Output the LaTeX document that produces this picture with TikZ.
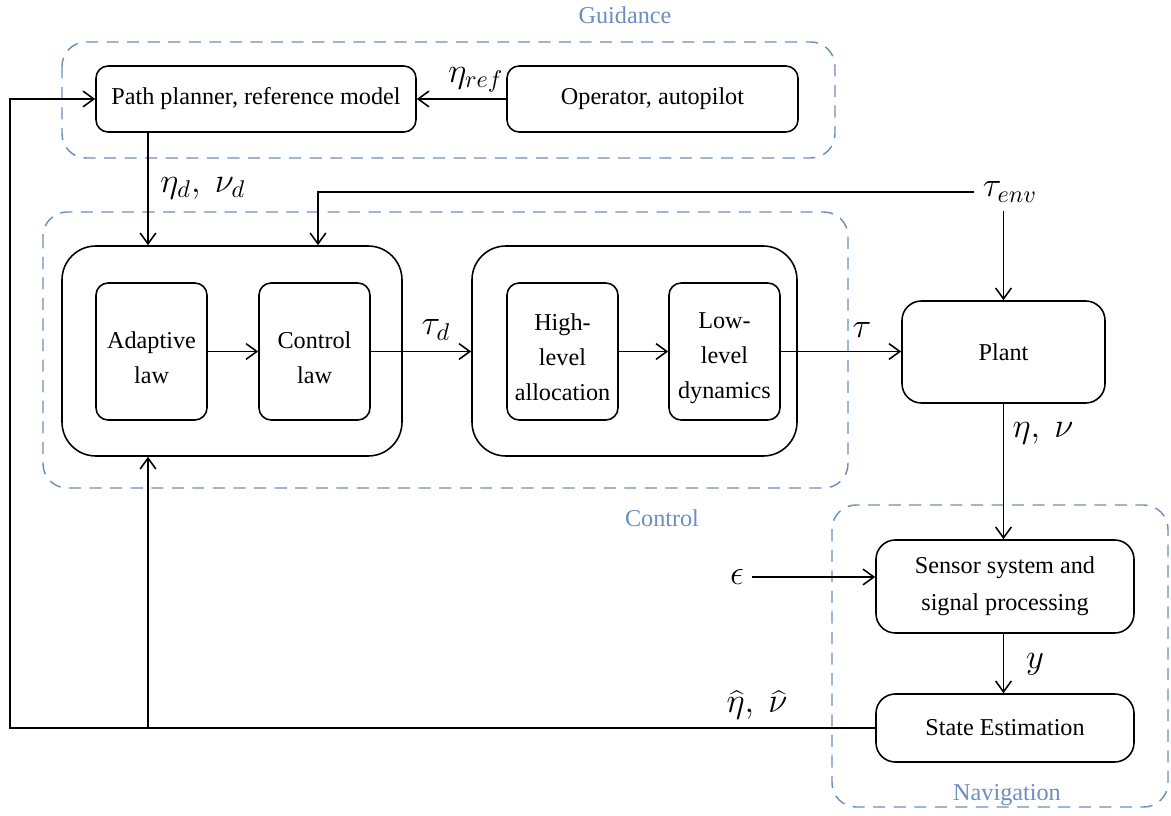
\documentclass[tikz,border=0pt]{standalone}
\usepackage{fontspec}
\setmainfont{Liberation Serif}
\usetikzlibrary{arrows.meta}
\definecolor{zoneblue}{RGB}{108,142,191}
\newdimen\pxu \pxu=0.4133pt
% taller first line, to set the stacked block texts a little lower
\newcommand{\lowstrut}{\rule{0pt}{12pt}}

\begin{document}
\begin{tikzpicture}[x=0.4133pt, y=-0.4133pt,
  txt/.style={font=\fontsize{10}{14.5}\selectfont},
  blk/.style={draw, line width=0.65pt, rounded corners=5pt, align=center, inner sep=0pt, txt},
  inner/.style={blk, minimum width=111\pxu, minimum height=137\pxu},
  grp/.style={draw, line width=0.65pt, rounded corners=14pt, inner sep=0pt},
  zone/.style={draw=zoneblue, line width=0.6pt, dash pattern=on 5pt off 3.5pt, rounded corners=10pt},
  zonelabel/.style={text=zoneblue, txt},
  lbl/.style={font=\fontsize{14}{16}\selectfont},
  flow/.style={line width=0.65pt, -{Straight Barb[length=4.5pt,width=6.5pt]}},
  wire/.style={line width=0.65pt}]
\useasboundingbox (0,0) rectangle (1171,816);

% zones
\draw[zone] (62,42) rectangle (835,158);
\draw[zone] (43,212) rectangle (848,488);
\draw[zone] (832,505) rectangle (1168,807);
\node[zonelabel] (gz) at (625,15) {Guidance};
\node[zonelabel] (cz) at (662,518) {Control};
\node[zonelabel] (nz) at (1007,795) {Navigation};

% guidance
\node[blk, minimum width=320\pxu, minimum height=66\pxu] (pp) at (256,99) {Path planner, reference model};
\node[blk, minimum width=291\pxu, minimum height=66\pxu] (op) at (652.5,99) {Operator, autopilot};

% control
\node[grp, minimum width=340\pxu, minimum height=210\pxu] (ga) at (232,351) {};
\node[grp, minimum width=325\pxu, minimum height=210\pxu] (gb) at (634.5,351) {};
\node[inner] (ad) at (151.5,351.5) {\lowstrut Adaptive\\law};
\node[inner] (cl) at (314.5,351.5) {\lowstrut Control\\law};
\node[inner] (hl) at (562.5,351.5) {\lowstrut High-\\level\\allocation};
\node[inner] (ll) at (724.5,351.5) {\lowstrut Low-\\level\\dynamics};

% plant and navigation
\node[blk, rounded corners=8pt, minimum width=203\pxu, minimum height=102\pxu] (plant) at (1003.5,352) {Plant};
\node[blk, rounded corners=8pt, minimum width=258\pxu, minimum height=93\pxu, font=\fontsize{10}{15.3}\selectfont] (sens) at (1005,586.5) {Sensor system and\\signal processing};
\node[blk, rounded corners=8pt, minimum width=258\pxu, minimum height=68\pxu] (est) at (1005,728) {State Estimation};

% signal labels
\node[lbl] (eref) at (476,80) {$\eta_{ref}$};
\node[lbl] (ed) at (203,188) {$\eta_d,\ \nu_d$};
\node[lbl] (tenv) at (1010,192) {$\tau_{env}$};
\node[lbl] (td) at (436,330) {$\tau_d$};
\node[lbl] (tau) at (862,330) {$\tau$};
\node[lbl] (en) at (1043,433) {$\eta,\ \nu$};
\node[lbl] (eps) at (737,577) {$\epsilon$};
\node[lbl] (yy) at (1035,664) {$y$};
\node[lbl] (hat) at (757,705) {$\widehat{\eta},\ \widehat{\nu}$};

\coordinate (fbk) at (10,0);
\coordinate (tap) at (148,0);
\coordinate (drop) at (318,0);

% connectors
\draw[flow] (op.west) -- (pp.east);
\draw[flow] (pp.south -| tap) -- (ga.north -| tap);
\draw[flow] (ad.east) -- (cl.west);
\draw[flow] (cl.east) -- (gb.west |- cl.east);
\draw[flow] (hl.east) -- (ll.west);
\draw[flow] (ll.east) -- (plant.west |- ll.east);
\draw[flow] (tenv.west) -| (ga.north -| drop);
\draw[flow] (plant.north |- tenv.south) -- (plant.north);
\draw[flow] (plant.south) -- (sens.north -| plant.south);
\draw[flow] (eps.east) -- (sens.west |- eps.east);
\draw[flow] (sens.south -| plant.south) -- (est.north -| plant.south);
\draw[flow] (est.west) -- (est.west -| fbk) |- (pp.west);
\draw[flow] (est.west -| tap) -- (ga.south -| tap);
\end{tikzpicture}
\end{document}
